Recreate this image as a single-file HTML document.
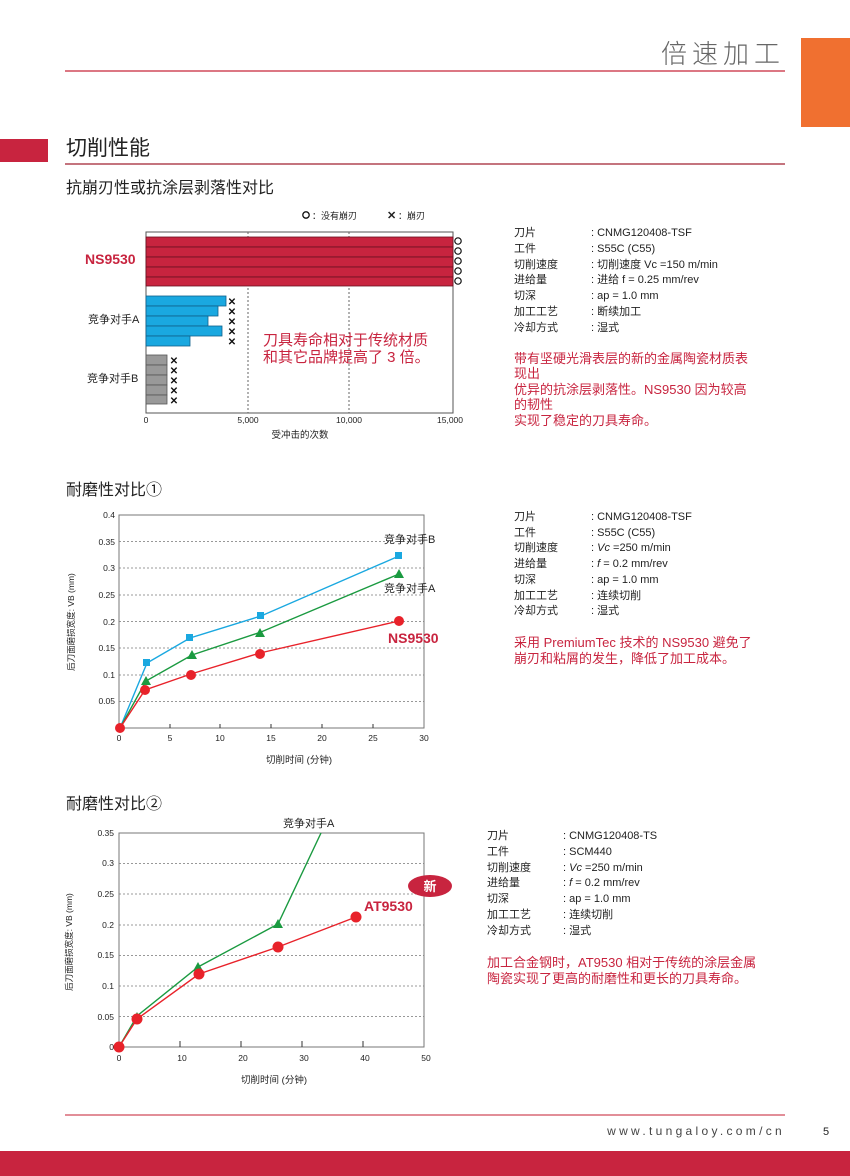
<!DOCTYPE html>
<html><head><meta charset="utf-8"><style>
html,body{margin:0;padding:0;background:#fff}
svg{display:block}
text{font-family:"Liberation Sans","Noto Sans CJK SC",sans-serif}
</style></head><body>
<svg width="850" height="1176" viewBox="0 0 850 1176" xmlns="http://www.w3.org/2000/svg">
<!-- header -->
<rect x="801" y="38" width="49" height="89" fill="#f07030"/>
<text x="785" y="63" font-size="26" fill="#666" text-anchor="end" letter-spacing="5" font-weight="300">倍速加工</text>
<line x1="65" y1="71" x2="785" y2="71" stroke="#d04a5a" stroke-width="1.5"/>
<rect x="0" y="139" width="48" height="23" fill="#c8243f"/>
<text x="66" y="155" font-size="21" fill="#222">切削性能</text>
<line x1="65" y1="164" x2="785" y2="164" stroke="#a02030" stroke-width="1.2"/>
<text x="66" y="193" font-size="16" fill="#222">抗崩刃性或抗涂层剥落性对比</text>

<!-- chart 1 -->
<g font-size="9" fill="#222">
<circle cx="306" cy="215" r="3.2" fill="none" stroke="#111" stroke-width="1.3"/><text x="312" y="219">：没有崩刃</text>
<text x="387" y="219" font-size="11" font-weight="bold">✕</text><text x="398" y="219">：崩刃</text>
</g>
<rect x="146" y="232" width="307" height="181" fill="none" stroke="#555" stroke-width="1"/>
<line x1="248" y1="232" x2="248" y2="413" stroke="#666" stroke-dasharray="2,2"/>
<line x1="349" y1="232" x2="349" y2="413" stroke="#666" stroke-dasharray="2,2"/>
<g fill="#c8243f" stroke="#6a1020" stroke-width="0.8">
<rect x="146" y="237" width="307" height="10"/><rect x="146" y="247" width="307" height="10"/><rect x="146" y="257" width="307" height="10"/><rect x="146" y="267" width="307" height="10"/><rect x="146" y="277" width="307" height="9"/>
</g>
<g fill="none" stroke="#111" stroke-width="1.2">
<circle cx="458" cy="241" r="3.2"/><circle cx="458" cy="251" r="3.2"/><circle cx="458" cy="261" r="3.2"/><circle cx="458" cy="271" r="3.2"/><circle cx="458" cy="281" r="3.2"/>
</g>
<g fill="#1aa8e0" stroke="#10608a" stroke-width="0.8">
<rect x="146" y="296" width="80" height="10"/><rect x="146" y="306" width="72" height="10"/><rect x="146" y="316" width="62" height="10"/><rect x="146" y="326" width="76" height="10"/><rect x="146" y="336" width="44" height="10"/>
</g>
<g fill="#999" stroke="#555" stroke-width="0.8">
<rect x="146" y="355" width="21" height="10"/><rect x="146" y="365" width="21" height="10"/><rect x="146" y="375" width="21" height="10"/><rect x="146" y="385" width="21" height="10"/><rect x="146" y="395" width="21" height="9"/>
</g>
<g font-size="10" font-weight="bold" fill="#111" text-anchor="middle">
<text x="232" y="305">✕</text><text x="232" y="315">✕</text><text x="232" y="325">✕</text><text x="232" y="335">✕</text><text x="232" y="345">✕</text>
<text x="174" y="364">✕</text><text x="174" y="374">✕</text><text x="174" y="384">✕</text><text x="174" y="394">✕</text><text x="174" y="404">✕</text>
</g>
<text x="85" y="264" font-size="14" font-weight="bold" fill="#c8243f">NS9530</text>
<text x="88" y="323" font-size="11" fill="#222">竞争对手A</text>
<text x="87" y="382" font-size="11" fill="#222">竞争对手B</text>
<text x="263" y="345" font-size="15" fill="#c8243f">刀具寿命相对于传统材质</text>
<text x="263" y="362" font-size="15" fill="#c8243f">和其它品牌提高了 3 倍。</text>
<g font-size="8.5" fill="#222" text-anchor="middle">
<text x="146" y="423">0</text><text x="248" y="423">5,000</text><text x="349" y="423">10,000</text><text x="450" y="423">15,000</text>
<text x="300" y="438" font-size="9.5">受冲击的次数</text>
</g>
<g font-size="11" fill="#222">
<text x="514" y="236">刀片</text><text x="591" y="236">: CNMG120408-TSF</text>
<text x="514" y="252">工件</text><text x="591" y="252">: S55C (C55)</text>
<text x="514" y="268">切削速度</text><text x="591" y="268">: 切削速度 Vc =150 m/min</text>
<text x="514" y="283">进给量</text><text x="591" y="283">: 进给 f = 0.25 mm/rev</text>
<text x="514" y="299">切深</text><text x="591" y="299">: ap = 1.0 mm</text>
<text x="514" y="315">加工工艺</text><text x="591" y="315">: 断续加工</text>
<text x="514" y="331">冷却方式</text><text x="591" y="331">: 湿式</text>
</g>
<g font-size="13" fill="#c8243f">
<text x="514" y="363">带有坚硬光滑表层的新的金属陶瓷材质表</text>
<text x="514" y="378">现出</text>
<text x="514" y="394">优异的抗涂层剥落性。NS9530 因为较高</text>
<text x="514" y="409">的韧性</text>
<text x="514" y="425">实现了稳定的刀具寿命。</text>
</g>

<!-- chart 2 -->
<text x="66" y="495" font-size="16" fill="#222">耐磨性对比①</text>
<g stroke="#777" stroke-dasharray="2,2" stroke-width="0.8">
<line x1="119" y1="541.5" x2="424" y2="541.5"/><line x1="119" y1="568" x2="424" y2="568"/><line x1="119" y1="595" x2="424" y2="595"/><line x1="119" y1="621.5" x2="424" y2="621.5"/><line x1="119" y1="648" x2="424" y2="648"/><line x1="119" y1="675" x2="424" y2="675"/><line x1="119" y1="701.5" x2="424" y2="701.5"/>
</g>
<rect x="119" y="515" width="305" height="213" fill="none" stroke="#777" stroke-width="1"/>
<g stroke="#333" stroke-width="1">
<line x1="170" y1="728" x2="170" y2="724"/><line x1="220" y1="728" x2="220" y2="724"/><line x1="271" y1="728" x2="271" y2="724"/><line x1="322" y1="728" x2="322" y2="724"/><line x1="373" y1="728" x2="373" y2="724"/>
</g>
<g font-size="8.5" fill="#222" text-anchor="end">
<text x="115" y="518">0.4</text><text x="115" y="545">0.35</text><text x="115" y="571">0.3</text><text x="115" y="598">0.25</text><text x="115" y="625">0.2</text><text x="115" y="651">0.15</text><text x="115" y="678">0.1</text><text x="115" y="704">0.05</text>
</g>
<g font-size="8.5" fill="#222" text-anchor="middle">
<text x="119" y="741">0</text><text x="170" y="741">5</text><text x="220" y="741">10</text><text x="271" y="741">15</text><text x="322" y="741">20</text><text x="373" y="741">25</text><text x="424" y="741">30</text>
<text x="299" y="763" font-size="9.5">切削时间 (分钟)</text>
</g>
<text transform="translate(74,622) rotate(-90)" font-size="8.5" fill="#222" text-anchor="middle">后刀面磨损宽度: VB (mm)</text>
<polyline points="120,728 147,663 190,638 261,616 399,556" fill="none" stroke="#1aa8e0" stroke-width="1.4"/>
<polyline points="120,728 146,681 192,655 261,632 399,574" fill="none" stroke="#1a9a40" stroke-width="1.4"/>
<polyline points="120,728 145,690 191,674 260,653 399,621" fill="none" stroke="#e8222a" stroke-width="1.4"/>
<g fill="#1aa8e0"><rect x="143" y="659" width="7" height="7"/><rect x="186" y="634" width="7" height="7"/><rect x="257" y="612" width="7" height="7"/><rect x="395" y="552" width="7" height="7"/></g>
<g fill="#1a9a40"><polygon points="146,676 151,685 141,685"/><polygon points="192,650 197,659 187,659"/><polygon points="260,628 265,637 255,637"/><polygon points="399,569 404,578 394,578"/></g>
<g fill="#e8222a"><circle cx="120" cy="728" r="5"/><circle cx="145" cy="690" r="5"/><circle cx="191" cy="675" r="5"/><circle cx="260" cy="654" r="5"/><circle cx="399" cy="621" r="5"/></g>
<text x="384" y="543" font-size="11" fill="#222">竞争对手B</text>
<text x="384" y="592" font-size="11" fill="#222">竞争对手A</text>
<text x="388" y="643" font-size="14" font-weight="bold" fill="#c8243f">NS9530</text>
<g font-size="11" fill="#222">
<text x="514" y="520">刀片</text><text x="591" y="520">: CNMG120408-TSF</text>
<text x="514" y="536">工件</text><text x="591" y="536">: S55C (C55)</text>
<text x="514" y="551">切削速度</text><text x="591" y="551">: <tspan font-style="italic">Vc</tspan> =250 m/min</text>
<text x="514" y="567">进给量</text><text x="591" y="567">: <tspan font-style="italic">f</tspan> = 0.2 mm/rev</text>
<text x="514" y="583">切深</text><text x="591" y="583">: ap = 1.0 mm</text>
<text x="514" y="599">加工工艺</text><text x="591" y="599">: 连续切削</text>
<text x="514" y="614">冷却方式</text><text x="591" y="614">: 湿式</text>
</g>
<g font-size="13" fill="#c8243f">
<text x="514" y="647">采用 PremiumTec 技术的 NS9530 避免了</text>
<text x="514" y="663">崩刃和粘屑的发生，降低了加工成本。</text>
</g>

<!-- chart 3 -->
<text x="66" y="809" font-size="16" fill="#222">耐磨性对比②</text>
<g stroke="#777" stroke-dasharray="2,2" stroke-width="0.8">
<line x1="119" y1="863.5" x2="424" y2="863.5"/><line x1="119" y1="894" x2="424" y2="894"/><line x1="119" y1="925" x2="424" y2="925"/><line x1="119" y1="955.5" x2="424" y2="955.5"/><line x1="119" y1="986" x2="424" y2="986"/><line x1="119" y1="1016.5" x2="424" y2="1016.5"/>
</g>
<rect x="119" y="833" width="305" height="214" fill="none" stroke="#777" stroke-width="1"/>
<g stroke="#333" stroke-width="1">
<line x1="180" y1="1047" x2="180" y2="1041"/><line x1="241" y1="1047" x2="241" y2="1041"/><line x1="302" y1="1047" x2="302" y2="1041"/><line x1="363" y1="1047" x2="363" y2="1041"/>
</g>
<g font-size="8.5" fill="#222" text-anchor="end">
<text x="114" y="836">0.35</text><text x="114" y="866">0.3</text><text x="114" y="897">0.25</text><text x="114" y="928">0.2</text><text x="114" y="958">0.15</text><text x="114" y="989">0.1</text><text x="114" y="1020">0.05</text><text x="114" y="1050">0</text>
</g>
<g font-size="8.5" fill="#222" text-anchor="middle">
<text x="119" y="1061">0</text><text x="182" y="1061">10</text><text x="243" y="1061">20</text><text x="304" y="1061">30</text><text x="365" y="1061">40</text><text x="426" y="1061">50</text>
<text x="274" y="1083" font-size="9.5">切削时间 (分钟)</text>
</g>
<text transform="translate(72,942) rotate(-90)" font-size="8.5" fill="#222" text-anchor="middle">后刀面磨损宽度: VB (mm)</text>
<polyline points="119,1047 137,1016 198,967 278,924 321,833" fill="none" stroke="#1a9a40" stroke-width="1.4"/>
<polyline points="119,1047 137,1019 199,974 278,947 356,917" fill="none" stroke="#e8222a" stroke-width="1.4"/>
<g fill="#1a9a40"><polygon points="137,1012 142,1021 132,1021"/><polygon points="198,962 203,971 193,971"/><polygon points="278,919 283,928 273,928"/></g>
<g fill="#e8222a"><circle cx="119" cy="1047" r="5.5"/><circle cx="137" cy="1019" r="5.5"/><circle cx="199" cy="974" r="5.5"/><circle cx="278" cy="947" r="5.5"/><circle cx="356" cy="917" r="5.5"/></g>
<text x="283" y="827" font-size="11" fill="#222">竞争对手A</text>
<ellipse cx="430" cy="886" rx="22" ry="11" fill="#c8243f"/>
<text x="430" y="891" font-size="13" font-weight="bold" fill="#fff" text-anchor="middle">新</text>
<text x="364" y="911" font-size="14" font-weight="bold" fill="#c8243f">AT9530</text>
<g font-size="11" fill="#222">
<text x="487" y="839">刀片</text><text x="563" y="839">: CNMG120408-TS</text>
<text x="487" y="855">工件</text><text x="563" y="855">: SCM440</text>
<text x="487" y="871">切削速度</text><text x="563" y="871">: <tspan font-style="italic">Vc</tspan> =250 m/min</text>
<text x="487" y="886">进给量</text><text x="563" y="886">: <tspan font-style="italic">f</tspan> = 0.2 mm/rev</text>
<text x="487" y="902">切深</text><text x="563" y="902">: ap = 1.0 mm</text>
<text x="487" y="918">加工工艺</text><text x="563" y="918">: 连续切削</text>
<text x="487" y="934">冷却方式</text><text x="563" y="934">: 湿式</text>
</g>
<g font-size="13" fill="#c8243f">
<text x="487" y="967">加工合金钢时，AT9530 相对于传统的涂层金属</text>
<text x="487" y="983">陶瓷实现了更高的耐磨性和更长的刀具寿命。</text>
</g>

<!-- footer -->
<line x1="65" y1="1115" x2="785" y2="1115" stroke="#d04a5a" stroke-width="1.2"/>
<text x="785" y="1135" font-size="12" fill="#444" text-anchor="end" letter-spacing="3.3">www.tungaloy.com/cn</text>
<text x="826" y="1135" font-size="11" fill="#222" text-anchor="middle">5</text>
<rect x="0" y="1151" width="850" height="25" fill="#c8243f"/>
</svg>
</body></html>
